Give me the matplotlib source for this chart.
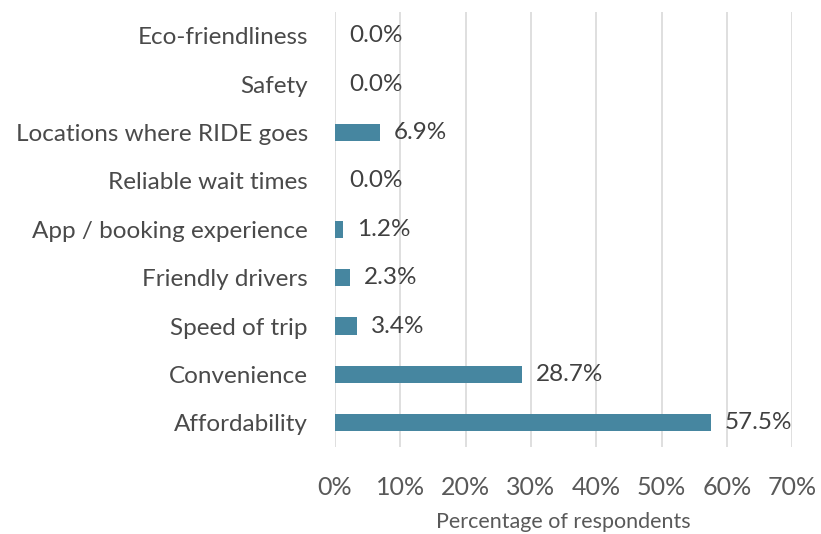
import matplotlib.pyplot as plt
from matplotlib.ticker import PercentFormatter

categories = ['Affordability', 'Convenience', 'Speed of trip', 'Friendly drivers',
              'App / booking experience', 'Reliable wait times',
              'Locations where RIDE goes', 'Safety', 'Eco-friendliness']
values = [57.5, 28.7, 3.4, 2.3, 1.2, 0.0, 6.9, 0.0, 0.0]

bar_color = '#4686a0'
text_color = '#595959'
plt.rcParams['font.family'] = ['Lato', 'DejaVu Sans']

fig = plt.figure(figsize=(8.21, 5.34), dpi=100)
ax = fig.add_axes([0.408, 0.163, 0.557, 0.815])

y = range(len(categories))
ax.barh(y, values, height=0.36, color=bar_color, zorder=3)
for yi, v in zip(y, values):
    ax.annotate(f'{v:.1f}%', (v, yi), xytext=(10, 0), textcoords='offset points',
                va='center', ha='left', fontsize=17.5, color='#404040')

ax.set_xlim(0, 70)
ax.set_ylim(-0.5, 8.5)
ax.set_xticks(range(0, 71, 10))
ax.xaxis.set_major_formatter(PercentFormatter(decimals=0))
ax.set_yticks(list(y))
ax.set_yticklabels(categories)
ax.grid(axis='x', color='#d9d9d9', linewidth=1.2, zorder=0)
for s in ax.spines.values():
    s.set_visible(False)
ax.tick_params(axis='both', length=0, colors=text_color)
ax.tick_params(axis='x', labelsize=18, pad=21)
ax.tick_params(axis='y', labelsize=17.5, pad=19.5)
for lbl in ax.get_yticklabels():
    lbl.set_color('#4a4a4a')
ax.set_xlabel('Percentage of respondents', fontsize=15.5, color=text_color, labelpad=9)

fig.savefig('out.png', dpi=100)
